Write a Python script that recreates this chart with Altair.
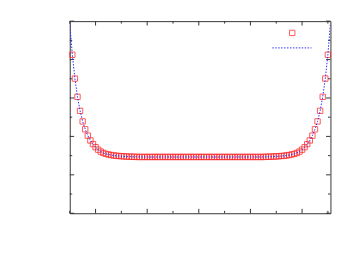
import altair as alt
import pandas as pd

# ---- data ----
x_vals = [0.1, 0.2, 0.3, 0.4, 0.5, 0.6, 0.7, 0.8, 0.9, 1.0,
          1.1, 1.2, 1.3, 1.4, 1.5, 1.6, 1.7, 1.8, 1.9, 2.0,
          2.1, 2.2, 2.3, 2.4, 2.5, 2.6, 2.7, 2.8, 2.9, 3.0,
          3.1, 3.2, 3.3, 3.4, 3.5, 3.6, 3.7, 3.8, 3.9, 4.0,
          4.1, 4.2, 4.3, 4.4, 4.5, 4.6, 4.7, 4.8, 4.9, 5.0,
          5.1, 5.2, 5.3, 5.4, 5.5, 5.6, 5.7, 5.8, 5.9, 6.0,
          6.1, 6.2, 6.3, 6.4, 6.5, 6.6, 6.7, 6.8, 6.9, 7.0,
          7.1, 7.2, 7.3, 7.4, 7.5, 7.6, 7.7, 7.8, 7.9, 8.0,
          8.1, 8.2, 8.3, 8.4, 8.5, 8.6, 8.7, 8.8, 8.9, 9.0,
          9.1, 9.2, 9.3, 9.4, 9.5, 9.6, 9.7, 9.8, 9.9, 10.0]
y_vals = [8.25, 7.01, 6.06, 5.33, 4.78, 4.37, 4.04, 3.79, 3.60, 3.44,
          3.31, 3.21, 3.14, 3.09, 3.06, 3.03, 3.01, 2.99, 2.98, 2.97,
          2.96, 2.95, 2.95, 2.94, 2.94, 2.93, 2.93, 2.93, 2.93, 2.93,
          2.93, 2.93, 2.93, 2.93, 2.93, 2.93, 2.93, 2.93, 2.93, 2.93,
          2.93, 2.93, 2.93, 2.93, 2.93, 2.93, 2.93, 2.93, 2.93, 2.93,
          2.93, 2.93, 2.93, 2.93, 2.93, 2.93, 2.93, 2.93, 2.93, 2.93,
          2.93, 2.93, 2.93, 2.93, 2.93, 2.93, 2.93, 2.93, 2.93, 2.93,
          2.93, 2.93, 2.93, 2.93, 2.93, 2.94, 2.94, 2.95, 2.95, 2.96,
          2.97, 2.98, 2.99, 3.01, 3.03, 3.06, 3.09, 3.14, 3.21, 3.31,
          3.44, 3.60, 3.79, 4.04, 4.37, 4.78, 5.33, 6.06, 7.01, 8.25]
line_x = [0.0] + x_vals + [10.1]
line_y = [9.9] + y_vals + [9.9]

x_major = [1, 3, 5, 7, 9]
x_minor = [0, 2, 4, 6, 8, 10]
y_major = [0, 2, 4, 6, 8, 10]
y_minor = [1, 3, 5, 7, 9]

W, H = 266, 196
xs = alt.Scale(domain=[0, 10.1], nice=False, zero=False)
ys = alt.Scale(domain=[0, 10], nice=False, zero=False)
frame = "#333333"

pts = pd.DataFrame({"x": x_vals, "y": y_vals})
ln = pd.DataFrame({"x": line_x, "y": line_y})

points = alt.Chart(pts).mark_point(
    shape="square", filled=False, size=30, color="#ff2020",
    strokeWidth=1, opacity=0.75
).encode(x=alt.X("x:Q", scale=xs, axis=None), y=alt.Y("y:Q", scale=ys, axis=None))

line = alt.Chart(ln).mark_line(
    color="#2a2aff", strokeWidth=1, strokeDash=[1.5, 1.5], clip=True
).encode(x=alt.X("x:Q", scale=xs, axis=None), y=alt.Y("y:Q", scale=ys, axis=None))


def xticks(vals, length):
    d = pd.DataFrame({"t": vals})
    b = alt.Chart(d).mark_rule(color=frame, strokeWidth=1).encode(
        x=alt.X("t:Q", scale=xs, axis=None), y=alt.value(H), y2=alt.value(H - length))
    t = alt.Chart(d).mark_rule(color=frame, strokeWidth=1).encode(
        x=alt.X("t:Q", scale=xs, axis=None), y=alt.value(0), y2=alt.value(length))
    return b + t


def yticks(vals, length):
    d = pd.DataFrame({"t": vals})
    l = alt.Chart(d).mark_rule(color=frame, strokeWidth=1).encode(
        y=alt.Y("t:Q", scale=ys, axis=None), x=alt.value(0), x2=alt.value(length))
    r = alt.Chart(d).mark_rule(color=frame, strokeWidth=1).encode(
        y=alt.Y("t:Q", scale=ys, axis=None), x=alt.value(W), x2=alt.value(W - length))
    return l + r


one = pd.DataFrame({"a": [0]})
leg_pt = alt.Chart(one).mark_point(
    shape="square", filled=False, size=30, color="#ff2020", strokeWidth=1, opacity=0.75
).encode(x=alt.value(227), y=alt.value(12))
leg_ln = alt.Chart(one).mark_rule(
    color="#2a2aff", strokeWidth=1, strokeDash=[1.5, 1.5]
).encode(x=alt.value(206.7), x2=alt.value(246.7), y=alt.value(27.3))

chart = alt.layer(
    xticks(x_major, 4.5), xticks(x_minor, 2.5),
    yticks(y_major, 4.5), yticks(y_minor, 2.5),
    points, line, leg_pt, leg_ln
).properties(
    width=W, height=H,
    padding={"left": 60, "top": 10, "right": 20, "bottom": 30}
).configure_view(stroke=frame, strokeWidth=1)

chart.save("out.html", embed_options={"renderer": "svg", "actions": False})
